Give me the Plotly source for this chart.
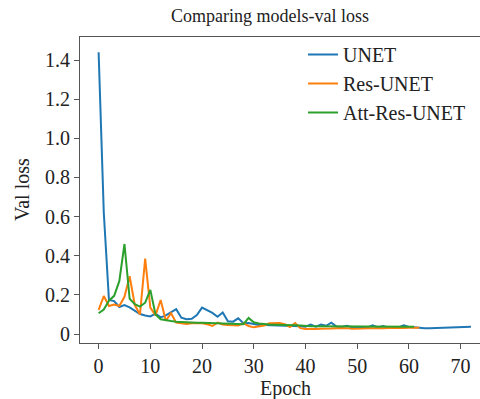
import plotly.graph_objects as go

series_names = ["UNET", "Res-UNET", "Att-Res-UNET"]
colors = ["#1f77b4", "#ff7f0e", "#2ca02c"]

unet = [1.44, 0.62, 0.174, 0.168, 0.138, 0.148, 0.136, 0.117, 0.102, 0.095,
        0.090, 0.104, 0.085, 0.095, 0.110, 0.127, 0.083, 0.075, 0.078, 0.097,
        0.135, 0.120, 0.108, 0.088, 0.110, 0.065, 0.063, 0.080, 0.055, 0.056,
        0.050, 0.046, 0.046, 0.045, 0.044, 0.046, 0.043, 0.044, 0.042, 0.040,
        0.037, 0.048, 0.038, 0.048, 0.042, 0.058, 0.038, 0.036, 0.042, 0.035,
        0.034, 0.035, 0.034, 0.044, 0.034, 0.041, 0.034, 0.033, 0.034, 0.045,
        0.036, 0.034, 0.031, 0.029, 0.030, 0.031, 0.032, 0.033, 0.034, 0.035,
        0.035, 0.036, 0.037]

res_unet = [0.123, 0.194, 0.143, 0.150, 0.143, 0.190, 0.295, 0.148, 0.100, 0.385,
            0.135, 0.095, 0.174, 0.068, 0.106, 0.058, 0.055, 0.051, 0.055, 0.055,
            0.055, 0.050, 0.041, 0.058, 0.049, 0.046, 0.046, 0.043, 0.055, 0.041,
            0.034, 0.038, 0.043, 0.055, 0.057, 0.056, 0.050, 0.036, 0.056, 0.030,
            0.026, 0.025, 0.026, 0.027, 0.026, 0.028, 0.030, 0.031, 0.030, 0.027,
            0.026, 0.028, 0.030, 0.029, 0.031, 0.030, 0.031, 0.030, 0.032, 0.031,
            0.032, 0.031, 0.032]

att_res_unet = [0.106, 0.125, 0.170, 0.195, 0.270, 0.460, 0.180, 0.152, 0.140, 0.160,
                0.225, 0.100, 0.075, 0.069, 0.066, 0.063, 0.061, 0.060, 0.059, 0.058,
                0.057, 0.056, 0.055, 0.054, 0.053, 0.052, 0.051, 0.050, 0.050, 0.082,
                0.060, 0.054, 0.050, 0.048, 0.047, 0.047, 0.046, 0.045, 0.045, 0.043,
                0.040, 0.039, 0.039, 0.039, 0.038, 0.038, 0.038, 0.038, 0.037, 0.037,
                0.037, 0.037, 0.037, 0.037, 0.037, 0.037, 0.037, 0.037, 0.037, 0.037,
                0.037, 0.037]

x_ticks = [0, 10, 20, 30, 40, 50, 60, 70]
x_tick_labels = ["0", "10", "20", "30", "40", "50", "60", "70"]
y_ticks = [0, 0.2, 0.4, 0.6, 0.8, 1.0, 1.2, 1.4]
y_tick_labels = ["0", "0.2", "0.4", "0.6", "0.8", "1.0", "1.2", "1.4"]

FONT = "Liberation Serif, Times New Roman, serif"
TXT = "#222222"

fig = go.Figure()
for i, (name, vals) in enumerate(zip(series_names, [unet, res_unet, att_res_unet])):
    fig.add_trace(go.Scatter(
        x=list(range(len(vals))), y=vals, mode="lines", name=name,
        line=dict(color=colors[i], width=2), legendgroup=name,
    ))

fig.update_layout(
    width=480, height=399,
    margin=dict(l=80, r=0, t=37, b=56, autoexpand=False),
    paper_bgcolor="white", plot_bgcolor="white",
    font=dict(family=FONT, size=20, color=TXT),
    title=dict(text="Comparing models-val loss", x=270/480, xanchor="center",
               y=1 - 16/399, yanchor="middle", xref="container", yref="container",
               font=dict(family=FONT, size=18, color=TXT), automargin=False),
    showlegend=True,
    legend=dict(x=(303-80)/400, xanchor="left", y=1 + 2/306, yanchor="top",
                bgcolor="rgba(0,0,0,0)", font=dict(family=FONT, size=20, color=TXT),
                tracegroupgap=0),
    xaxis=dict(range=[-3.6, 73.75], tickvals=x_ticks, ticktext=x_tick_labels,
               showgrid=False, zeroline=False, showline=True, linecolor="#555555",
               linewidth=1.2, mirror=True, ticks="outside", ticklen=5, tickcolor="#555555",
               automargin=False),
    yaxis=dict(range=[-0.046, 1.518], tickvals=y_ticks, ticktext=y_tick_labels,
               showgrid=False, zeroline=False, showline=True, linecolor="#555555",
               linewidth=1.2, ticks="outside", ticklen=5, tickcolor="#555555",
               automargin=False),
    annotations=[
        dict(text="Epoch", xref="paper", yref="paper", x=(285-80)/400, y=-(388-343)/306,
             xanchor="center", yanchor="middle", showarrow=False,
             font=dict(family=FONT, size=20, color=TXT)),
        dict(text="Val loss", xref="paper", yref="paper", x=-(80-22)/400, y=(343-190)/306,
             xanchor="center", yanchor="middle", showarrow=False, textangle=-90,
             font=dict(family=FONT, size=20, color=TXT)),
    ],
)

fig.write_html("out.html", config={"displayModeBar": False},
               post_script="document.body.style.margin='0';document.body.style.overflow='hidden';")
